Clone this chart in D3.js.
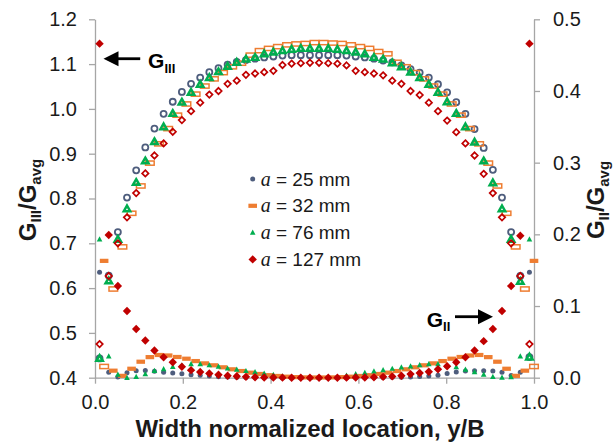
<!DOCTYPE html>
<html><head><meta charset="utf-8">
<script src="https://cdn.jsdelivr.net/npm/d3@7"></script>
<style>body{margin:0;background:#fff}svg{display:block}text{font-family:"Liberation Sans",Arial,sans-serif}</style>
</head><body>
<script>
// ---- data ----
const legendLabels = ["25", "32", "76", "127"];
const xTicks = [0, 0.2, 0.4, 0.6, 0.8, 1.0];
const leftTicks = [0.4, 0.5, 0.6, 0.7, 0.8, 0.9, 1.0, 1.1, 1.2];
const rightTicks = [0, 0.1, 0.2, 0.3, 0.4, 0.5];

// measurement locations y/B (a = 25, 76, 127 mm)
const posA = [0.0104,0.0313,0.0521,0.0729,0.0938,0.1146,0.1354,0.1563,0.1771,0.1979,0.2188,0.2396,0.2604,0.2813,0.3021,0.3229,0.3438,0.3646,0.3854,0.4063,0.4271,0.4479,0.4688,0.4896,0.5104,0.5313,0.5521,0.5729,0.5938,0.6146,0.6354,0.6563,0.6771,0.6979,0.7188,0.7396,0.7604,0.7813,0.8021,0.8229,0.8438,0.8646,0.8854,0.9063,0.9271,0.9479,0.9688,0.9896];
// measurement locations y/B (a = 32 mm)
const posB = [0.0208,0.0417,0.0625,0.0833,0.1042,0.1250,0.1458,0.1667,0.1875,0.2083,0.2292,0.2500,0.2708,0.2917,0.3125,0.3333,0.3542,0.3750,0.3958,0.4167,0.4375,0.4583,0.4792,0.5000,0.5208,0.5417,0.5625,0.5833,0.6042,0.6250,0.6458,0.6667,0.6875,0.7083,0.7292,0.7500,0.7708,0.7917,0.8125,0.8333,0.8542,0.8750,0.8958,0.9167,0.9375,0.9583,0.9792,1.0000];

// G_III / G_avg (left axis)
const gIII_25 = [0.443,0.628,0.725,0.802,0.863,0.914,0.956,0.989,1.016,1.038,1.056,1.070,1.082,1.091,1.099,1.105,1.109,1.112,1.115,1.117,1.119,1.120,1.120,1.120,
                 1.120,1.120,1.120,1.119,1.117,1.115,1.112,1.108,1.104,1.097,1.089,1.081,1.070,1.055,1.037,1.015,0.989,0.955,0.913,0.864,0.802,0.725,0.627,0.446];
const gIII_32 = [0.425,0.598,0.692,0.767,0.828,0.879,0.922,0.956,0.986,1.011,1.033,1.051,1.067,1.081,1.094,1.102,1.120,1.130,1.135,1.139,1.143,1.145,1.146,1.148,
                 1.148,1.147,1.146,1.143,1.139,1.135,1.128,1.123,1.104,1.094,1.081,1.067,1.051,1.033,1.011,0.986,0.956,0.922,0.879,0.828,0.767,0.692,0.598,0.425];
const gIII_76 = [0.443,0.616,0.709,0.777,0.836,0.884,0.927,0.960,0.990,1.015,1.037,1.055,1.070,1.083,1.095,1.104,1.111,1.115,1.123,1.127,1.130,1.133,1.135,1.135,
                 1.135,1.135,1.133,1.130,1.127,1.123,1.115,1.111,1.103,1.094,1.082,1.070,1.055,1.037,1.016,0.990,0.960,0.926,0.884,0.835,0.777,0.709,0.615,0.446];
const gIII_127 = [0.475,0.627,0.700,0.758,0.812,0.856,0.896,0.923,0.949,0.975,0.995,1.014,1.032,1.040,1.056,1.063,1.076,1.079,1.082,1.085,1.098,1.101,1.102,1.103,
                  1.103,1.102,1.101,1.097,1.085,1.082,1.079,1.075,1.063,1.056,1.040,1.031,1.014,0.995,0.974,0.948,0.923,0.896,0.855,0.812,0.758,0.700,0.627,0.475];

// G_II / G_avg (right axis)
const gII_25 = [0.147,0.0075,0.001,0.007,0.0098,0.010,0.009,0.0075,0.0066,0.0056,0.0042,0.0033,0.0024,0.0014,0.001,0.0005,0.0003,0.0002,0,0,0,0,0,0,
                0,0,0,0,0,0,0.0002,0.0003,0.0005,0.0008,0.001,0.0015,0.0025,0.0035,0.006,0.008,0.0095,0.0098,0.0098,0.0095,0.0075,0.003,0.0075,0.147];
const gII_32 = [0.163,0.0098,0.0026,0.0125,0.0223,0.0287,0.0317,0.031,0.0289,0.0265,0.0232,0.020,0.0173,0.0145,0.0117,0.0093,0.007,0.0052,0.0035,0.0024,0.0014,0.0008,0.0004,0.0003,
                0.0003,0.0004,0.0008,0.0014,0.0024,0.0035,0.0052,0.007,0.0093,0.0117,0.0145,0.0173,0.020,0.0232,0.0265,0.0289,0.031,0.0317,0.0287,0.0223,0.0125,0.0026,0.0098,0.163];
const gII_76 = [0.193,0.030,0.0045,0,0.0012,0.005,0.0098,0.012,0.0153,0.017,0.019,0.019,0.0175,0.0155,0.013,0.0115,0.0095,0.008,0.006,0.004,0.002,0.001,0.0005,0.0003,
                0.0003,0.0005,0.001,0.003,0.005,0.007,0.009,0.0107,0.0126,0.0145,0.016,0.0177,0.019,0.019,0.0165,0.015,0.0115,0.008,0.0045,0.0012,0.0003,0.001,0.030,0.193];
const gII_127 = [0.466,0.199,0.128,0.093,0.068,0.052,0.038,0.0285,0.0215,0.0153,0.0105,0.008,0.006,0.0042,0.0028,0.002,0.0012,0.0006,0.0003,0.0002,0.0001,0,0,0,
                 0,0,0,0.0001,0.0002,0.0003,0.0006,0.0012,0.0018,0.0028,0.005,0.0066,0.0084,0.0117,0.016,0.0215,0.0285,0.038,0.051,0.068,0.093,0.128,0.198,0.466];

// ---- chart ----
const W = 613, H = 442;
const C = {blue: "#4E5D7D", orange: "#EE7D31", green: "#00AE4F", red: "#C00000"};
const axisColor = "#A6A6A6", textColor = "#1a1a1a";

const svg = d3.select("body").append("svg").attr("width", W).attr("height", H);
const x = d3.scaleLinear().domain([0, 1]).range([95, 534]);
const yL = d3.scaleLinear().domain([0.4, 1.2]).range([377.7, 19.3]);
const yR = d3.scaleLinear().domain([0, 0.5]).range([377.7, 19.3]);

function styleAxis(g) {
  g.select(".domain").attr("stroke", axisColor).attr("stroke-width", 1.3);
  g.selectAll(".tick line").attr("stroke", axisColor).attr("stroke-width", 1.3);
  g.selectAll(".tick text").attr("fill", textColor).attr("font-size", 20)
    .attr("font-family", '"Liberation Sans",Arial,sans-serif');
}
svg.append("g").attr("transform", "translate(0,377.7)")
  .call(d3.axisBottom(x).tickValues(xTicks).tickFormat(d3.format(".1f")).tickSize(6).tickSizeOuter(0).tickPadding(11))
  .call(styleAxis);
svg.append("g").attr("transform", "translate(95,0)")
  .call(d3.axisLeft(yL).tickValues(leftTicks).tickFormat(d3.format(".1f")).tickSize(6).tickSizeOuter(0).tickPadding(12))
  .call(styleAxis);
svg.append("g").attr("transform", "translate(534,0)")
  .call(d3.axisRight(yR).tickValues(rightTicks).tickFormat(d3.format(".1f")).tickSize(6).tickSizeOuter(0).tickPadding(13))
  .call(styleAxis);

// marker drawing
function marker(sel, shape, color, hollow) {
  if (shape === "circle") {
    sel.append("circle").attr("r", hollow ? 3 : 2.5)
      .attr("fill", hollow ? "none" : color).attr("stroke", hollow ? color : "none").attr("stroke-width", 1.8);
  } else if (shape === "dash") {
    const w = hollow ? 8.6 : 8.6, h = hollow ? 4.2 : 4.2;
    sel.append("rect").attr("x", -w / 2).attr("y", -h / 2).attr("width", w).attr("height", h)
      .attr("fill", hollow ? "none" : color).attr("stroke", hollow ? color : "none").attr("stroke-width", 1.5);
  } else if (shape === "triangle") {
    const p = hollow ? "M0,-3.2L3.2,2.4L-3.2,2.4Z" : "M0,-3L2.8,2.2L-2.8,2.2Z";
    sel.append("path").attr("d", p)
      .attr("fill", hollow ? "none" : color).attr("stroke", hollow ? color : "none").attr("stroke-width", 2.5)
      .attr("stroke-linejoin", "miter");
  } else if (shape === "diamond") {
    const s = hollow ? 3.2 : 4.2;
    sel.append("path").attr("d", `M0,${-s}L${s},0L0,${s}L${-s},0Z`)
      .attr("fill", hollow ? "none" : color).attr("stroke", hollow ? color : "none").attr("stroke-width", 1.7);
  }
}
function drawSeries(xs, vals, yScale, shape, color, hollow) {
  const g = svg.append("g");
  g.selectAll("g").data(vals.map((v, i) => [xs[i], v])).join("g")
    .attr("transform", d => `translate(${x(d[0])},${yScale(d[1])})`)
    .each(function () { marker(d3.select(this), shape, color, hollow); });
}

drawSeries(posA, gIII_25, yL, "circle", C.blue, true);
drawSeries(posB, gIII_32, yL, "dash", C.orange, true);
drawSeries(posA, gIII_76, yL, "triangle", C.green, true);
drawSeries(posA, gIII_127, yL, "diamond", C.red, true);

drawSeries(posA, gII_25, yR, "circle", C.blue, false);
drawSeries(posB, gII_32, yR, "dash", C.orange, false);
drawSeries(posA, gII_76, yR, "triangle", C.green, false);
drawSeries(posA, gII_127, yR, "diamond", C.red, false);

// legend
const legShapes = [["circle", C.blue], ["dash", C.orange], ["triangle", C.green], ["diamond", C.red]];
const leg = svg.append("g").attr("transform", "translate(252.7,179)");
legendLabels.forEach((lab, i) => {
  const r = leg.append("g").attr("transform", `translate(0,${i * 26.8})`);
  marker(r, legShapes[i][0], legShapes[i][1], false);
  const t = r.append("text").attr("x", 8).attr("y", 6.5).attr("font-size", 19).attr("fill", textColor);
  t.append("tspan").attr("font-family", '"Liberation Serif","Times New Roman",serif').attr("font-style", "italic").attr("font-size", 20).text("a");
  t.append("tspan").text(` = ${lab} mm`);
});

// axis titles
svg.append("text").attr("x", 310).attr("y", 436.5).attr("text-anchor", "middle")
  .attr("font-size", 24).attr("font-weight", "bold").attr("fill", textColor)
  .text("Width normalized location, y/B");

function subTitle(tx, ty, sub1, sub2) {
  const t = svg.append("text").attr("transform", `translate(${tx},${ty}) rotate(-90)`)
    .attr("text-anchor", "middle").attr("font-size", 24).attr("font-weight", "bold").attr("fill", textColor);
  t.append("tspan").text("G");
  t.append("tspan").attr("font-size", 15).attr("dy", 4.5).text(sub1);
  t.append("tspan").attr("dy", -4.5).text("/G");
  t.append("tspan").attr("font-size", 15).attr("dy", 4.5).text(sub2);
}
subTitle(36, 200, "III", "avg");
subTitle(604, 200, "II", "avg");

// annotations
function arrow(x1, y1, x2, y2) {
  const dir = Math.sign(x2 - x1), hl = 15, hw = 7.5;
  svg.append("line").attr("x1", x1).attr("y1", y1).attr("x2", x2 - dir * hl + dir * 1).attr("y2", y2)
    .attr("stroke", "#000").attr("stroke-width", 2.8);
  svg.append("path").attr("d", `M${x2},${y2}L${x2 - dir * hl},${y2 - hw}L${x2 - dir * hl},${y2 + hw}Z`).attr("fill", "#000");
}
function gLabel(px, py, sub) {
  const t = svg.append("text").attr("x", px).attr("y", py).attr("font-size", 21).attr("font-weight", "bold").attr("fill", "#000");
  t.append("tspan").text("G");
  t.append("tspan").attr("font-size", 13).attr("dy", 4.5).text(sub);
}
const annIII = {tail: 0.103, tip: 0.0193, v: 1.112, tx: 0.121, tv: 1.0906};
arrow(x(annIII.tail), yL(annIII.v), x(annIII.tip), yL(annIII.v));
gLabel(x(annIII.tx), yL(annIII.tv), "III");

const annII = {tail: 0.82, tip: 0.9066, v: 0.0851, tx: 0.7557, tv: 0.0711};
arrow(x(annII.tail), yR(annII.v), x(annII.tip), yR(annII.v));
gLabel(x(annII.tx), yR(annII.tv), "II");
</script>
</body></html>
